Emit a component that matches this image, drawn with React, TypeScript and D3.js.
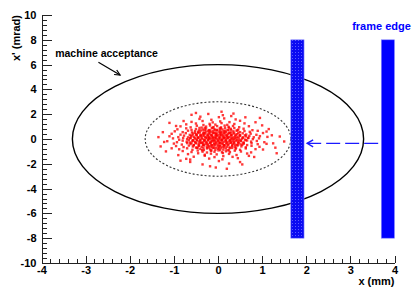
import React, { useEffect, useRef } from "react";
import * as d3 from "d3";

const xTicks = [-4, -3, -2, -1, 0, 1, 2, 3, 4];
const yTicks = [-10, -8, -6, -4, -2, 0, 2, 4, 6, 8, 10];
const xTitle = "x (mm)";
const yTitle = "x' (mrad)";

// semi axes of the ellipses (mm, mrad)
const acceptance = [3.3, 6];
const beamEnvelope = [1.65, 3];

// frames: x0, x1, y0, y1
const movedFrame = [1.65, 1.95, -8, 8];
const frameEdge = [3.7, 4.0, -8, 8];
// dashed arrow: from x, to x, at y
const frameShift = [3.63, 2.02, -0.35];
// label arrow: x0, y0, x1, y1
const acceptanceArrow = [-2.71, 6.19, -2.22, 5.16];
const acceptanceText = "machine acceptance";
const acceptanceTextPos = [-3.69, 6.63];
const frameText = "frame edge";
const frameTextPos = [3.04, 8.8];

// beam particles (mm, mrad)
const particles = [
  [-1.22,-0.24],[-1.02,0.05],[-0.88,-0.06],[-0.79,0.08],[-0.7,-0.02],[-0.63,0.06],[-0.57,-0.09],[-0.51,0.03],[-0.46,0.09],[-0.4,-0.05],[-0.35,0.02],[-0.3,-0.08],[-0.25,0.07],[-0.2,-0.01],[-0.16,0.05],[-0.11,-0.06],[-0.07,0.09],[-0.02,-0.03],[0.02,0.04],[0.06,-0.09],[0.1,0.01],[0.14,0.07],[0.19,-0.04],[0.23,0.08],[0.28,-0.07],[0.32,0.02],[0.37,-0.02],[0.42,0.06],[0.48,-0.08],[0.54,0.03],[0.61,-0.05],[0.69,0.09],[0.79,-0.01],[0.93,0.05],[1.22,0.3],
  [-1.1,0.22],[-0.9,0.15],[-0.77,0.27],[-0.68,0.13],[-0.61,0.24],[-0.55,0.18],[-0.49,0.29],[-0.44,0.12],[-0.39,0.21],[-0.34,0.26],[-0.29,0.14],[-0.24,0.23],[-0.2,0.17],[-0.15,0.28],[-0.11,0.11],[-0.06,0.2],[-0.02,0.25],[0.03,0.15],[0.07,0.29],[0.11,0.19],[0.16,0.12],[0.2,0.24],[0.25,0.16],[0.29,0.28],[0.34,0.13],[0.39,0.22],[0.44,0.18],[0.5,0.27],[0.56,0.11],[0.63,0.21],[0.71,0.25],[0.81,0.14],[0.95,0.23],[1.12,0.17],
  [-1.15,-0.18],[-0.93,-0.26],[-0.8,-0.13],[-0.71,-0.22],[-0.64,-0.29],[-0.58,-0.15],[-0.52,-0.24],[-0.47,-0.12],[-0.42,-0.2],[-0.37,-0.28],[-0.32,-0.16],[-0.27,-0.23],[-0.22,-0.11],[-0.18,-0.27],[-0.13,-0.19],[-0.09,-0.14],[-0.04,-0.25],[0.0,-0.17],[0.05,-0.29],[0.09,-0.12],[0.13,-0.22],[0.18,-0.16],[0.22,-0.27],[0.27,-0.13],[0.31,-0.2],[0.36,-0.25],[0.41,-0.14],[0.46,-0.23],[0.52,-0.18],[0.58,-0.28],[0.66,-0.12],[0.75,-0.21],[0.88,-0.16],[1.05,-0.26],
  [-1.05,0.42],[-0.85,0.35],[-0.73,0.47],[-0.64,0.33],[-0.57,0.44],[-0.5,0.38],[-0.45,0.49],[-0.39,0.32],[-0.34,0.41],[-0.29,0.46],[-0.24,0.36],[-0.19,0.43],[-0.15,0.31],[-0.1,0.48],[-0.05,0.39],[-0.01,0.34],[0.04,0.45],[0.08,0.37],[0.13,0.5],[0.17,0.33],[0.22,0.42],[0.27,0.47],[0.32,0.35],[0.37,0.44],[0.43,0.39],[0.49,0.31],[0.56,0.46],[0.64,0.36],[0.74,0.43],[0.87,0.34],[1.02,0.48],
  [-1.0,-0.37],[-0.82,-0.45],[-0.7,-0.33],[-0.62,-0.41],[-0.55,-0.49],[-0.49,-0.35],[-0.43,-0.43],[-0.38,-0.32],[-0.33,-0.47],[-0.28,-0.38],[-0.23,-0.44],[-0.18,-0.34],[-0.14,-0.5],[-0.09,-0.4],[-0.04,-0.36],[0.0,-0.46],[0.05,-0.33],[0.1,-0.42],[0.14,-0.48],[0.19,-0.37],[0.24,-0.44],[0.29,-0.31],[0.34,-0.4],[0.39,-0.47],[0.45,-0.35],[0.51,-0.43],[0.58,-0.38],[0.66,-0.49],[0.76,-0.34],[0.9,-0.42],[1.1,-0.39],
  [-0.98,0.62],[-0.8,0.55],[-0.68,0.67],[-0.59,0.53],[-0.52,0.64],[-0.45,0.58],[-0.39,0.69],[-0.33,0.52],[-0.27,0.61],[-0.22,0.66],[-0.17,0.56],[-0.12,0.63],[-0.07,0.51],[-0.02,0.68],[0.03,0.59],[0.08,0.54],[0.13,0.65],[0.18,0.57],[0.24,0.7],[0.29,0.53],[0.35,0.62],[0.42,0.67],[0.5,0.55],[0.6,0.64],[0.72,0.58],[0.9,0.66],
  [-0.95,-0.57],[-0.78,-0.65],[-0.66,-0.53],[-0.57,-0.61],[-0.5,-0.69],[-0.43,-0.55],[-0.37,-0.63],[-0.31,-0.52],[-0.25,-0.67],[-0.2,-0.58],[-0.15,-0.64],[-0.1,-0.54],[-0.05,-0.7],[0.0,-0.6],[0.05,-0.56],[0.1,-0.66],[0.15,-0.53],[0.2,-0.62],[0.26,-0.68],[0.32,-0.57],[0.38,-0.64],[0.45,-0.51],[0.53,-0.6],[0.63,-0.67],[0.76,-0.55],[0.94,-0.63],
  [-0.92,0.78],[-0.72,0.86],[-0.6,0.73],[-0.5,0.81],[-0.42,0.89],[-0.34,0.75],[-0.27,0.84],[-0.2,0.72],[-0.14,0.87],[-0.08,0.79],[-0.02,0.74],[0.04,0.85],[0.1,0.77],[0.16,0.9],[0.22,0.73],[0.29,0.82],[0.37,0.88],[0.46,0.76],[0.58,0.83],[0.78,0.71],
  [-0.88,-0.83],[-0.7,-0.75],[-0.58,-0.87],[-0.48,-0.72],[-0.4,-0.8],[-0.32,-0.89],[-0.25,-0.76],[-0.18,-0.84],[-0.12,-0.73],[-0.06,-0.88],[0.0,-0.79],[0.06,-0.74],[0.12,-0.86],[0.18,-0.77],[0.25,-0.9],[0.32,-0.72],[0.4,-0.81],[0.5,-0.87],[0.63,-0.76],[0.85,-0.82],
  [-0.85,1.02],[-0.62,0.94],[-0.48,1.07],[-0.37,0.92],[-0.27,1.0],[-0.18,1.09],[-0.1,0.96],[-0.02,1.04],[0.07,0.93],[0.15,1.08],[0.24,0.98],[0.34,1.05],[0.48,0.95],[0.7,1.03],
  [-0.8,-0.97],[-0.6,-1.05],[-0.46,-0.93],[-0.35,-1.02],[-0.25,-1.09],[-0.16,-0.95],[-0.08,-1.03],[0.01,-0.92],[0.09,-1.07],[0.18,-0.99],[0.27,-1.06],[0.38,-0.94],[0.52,-1.01],[0.75,-1.08],
  [-0.72,1.18],[-0.5,1.25],[-0.33,1.13],[-0.19,1.22],[-0.06,1.16],[0.08,1.28],[0.21,1.14],[0.37,1.21],[0.6,1.26],
  [-0.68,-1.22],[-0.45,-1.15],[-0.3,-1.27],[-0.16,-1.18],[-0.03,-1.24],[0.11,-1.13],[0.25,-1.2],[0.42,-1.29],[0.66,-1.17],
  [-0.6,1.38],[-0.35,1.45],[-0.12,1.34],[0.05,1.42],[0.26,1.36],[0.5,1.47],
  [-0.55,-1.43],[-0.3,-1.35],[-0.08,-1.46],[0.12,-1.38],[0.33,-1.44],[0.7,-1.36],
  [-0.42,1.62],[-0.15,1.55],[0.14,1.66],[0.4,1.58],
  [-0.63,-1.66],[-0.2,-1.58],[0.1,-1.64],[0.45,-1.55],
  [-0.4,1.8],[0.02,1.76],[0.3,1.85],
  [-0.63,-1.85],[0.02,-1.78],[0.5,-1.86],
  [-0.22,2.02],[0.11,1.92],[-0.35,-2.05],[0.25,-1.98],
  [0.08,2.2],[-0.18,-2.2],
  [-1.1,1.3],[1.33,-1.15],[-1.3,-0.6],[1.0,1.1],[-0.9,-1.3],[1.15,0.8],
  // dense core, between the rows above
  [-0.62,0.1],[-0.53,0.08],[-0.45,0.12],[-0.37,0.09],[-0.28,0.11],[-0.2,0.08],[-0.12,0.12],[-0.04,0.1],[0.05,0.09],[0.13,0.12],[0.21,0.1],[0.3,0.08],[0.38,0.11],[0.47,0.1],[0.57,0.12],[0.68,0.09],
  [-0.66,-0.1],[-0.56,-0.12],[-0.48,-0.09],[-0.4,-0.11],[-0.31,-0.1],[-0.23,-0.08],[-0.15,-0.12],[-0.07,-0.1],[0.01,-0.11],[0.09,-0.09],[0.17,-0.1],[0.26,-0.12],[0.35,-0.1],[0.43,-0.08],[0.52,-0.11],[0.63,-0.1],
  [-0.58,0.3],[-0.48,0.32],[-0.4,0.29],[-0.31,0.31],[-0.22,0.3],[-0.13,0.28],[-0.05,0.32],[0.04,0.3],[0.12,0.31],[0.21,0.29],[0.3,0.3],[0.4,0.32],[0.5,0.29],[0.61,0.3],
  [-0.6,-0.3],[-0.51,-0.31],[-0.42,-0.29],[-0.34,-0.32],[-0.25,-0.3],[-0.16,-0.29],[-0.08,-0.31],[0.02,-0.3],[0.1,-0.32],[0.19,-0.29],[0.28,-0.3],[0.37,-0.31],[0.47,-0.29],[0.58,-0.32],
  [-0.52,0.5],[-0.41,0.52],[-0.31,0.49],[-0.21,0.51],[-0.12,0.5],[-0.03,0.48],[0.06,0.52],[0.15,0.5],[0.25,0.49],[0.35,0.51],[0.46,0.5],
  [-0.55,-0.5],[-0.44,-0.52],[-0.34,-0.49],[-0.24,-0.51],[-0.15,-0.5],[-0.06,-0.48],[0.04,-0.52],[0.13,-0.5],[0.22,-0.49],[0.32,-0.51],[0.43,-0.5],[0.55,-0.48],
  [-0.43,0.7],[-0.3,0.72],[-0.18,0.69],[-0.07,0.71],[0.05,0.7],[0.17,0.68],[0.3,0.72],[0.44,0.7],
  [-0.46,-0.7],[-0.33,-0.72],[-0.21,-0.69],[-0.09,-0.71],[0.02,-0.7],[0.14,-0.68],[0.27,-0.72],[0.41,-0.7],
  [-0.3,0.9],[-0.12,0.92],[0.06,0.89],[0.25,0.91],[-0.36,-0.9],[-0.15,-0.92],[0.05,-0.89],[0.22,-0.91],
  // sparse halo
  [-1.25,0.55],[-1.05,-0.75],[-0.95,1.05],[-0.78,1.45],[-0.72,-1.6],[-0.5,2.1],[0.35,2.05],[0.62,1.75],
  [0.85,1.35],[1.1,0.6],[1.25,-0.35],[1.4,0.2],[1.02,-0.85],[0.82,-1.45],[0.55,-2.05],[-0.05,-2.3],
  [-0.85,-1.75],[-1.18,-1.0],[-1.35,0.15],[1.3,-0.7],[0.95,1.7],[-0.6,1.95],[0.2,-2.4],[1.5,-0.2]
];

const W = 415;
const H = 294;
const margin = { top: 15, right: 20.5, bottom: 31, left: 41.5 };
const font = "'Liberation Sans', Arial, Helvetica, sans-serif";

const range = (a: number, b: number, step: number) =>
  d3.range(Math.round((b - a) / step) + 1).map((i) => +(a + i * step).toFixed(3));

const App = () => {
  const svgRef = useRef<SVGSVGElement>(null);

  useEffect(() => {
    const root = d3.select(svgRef.current);
    root.selectAll("*").remove();

    const x = d3.scaleLinear().domain([-4, 4]).range([margin.left, W - margin.right]);
    const y = d3.scaleLinear().domain([-10, 10]).range([H - margin.bottom, margin.top]);

    const defs = root.append("defs");
    const pat = defs
      .append("pattern")
      .attr("id", "hatch")
      .attr("patternUnits", "userSpaceOnUse")
      .attr("width", 3)
      .attr("height", 3);
    pat.append("rect").attr("width", 3).attr("height", 3).attr("fill", "#0a0af2");
    pat.append("rect").attr("x", 1).attr("y", 1).attr("width", 1).attr("height", 1).attr("fill", "#5a5aff");

    // particles
    root
      .append("g")
      .selectAll("rect")
      .data(particles)
      .enter()
      .append("rect")
      .attr("x", (d) => x(d[0]) - 1.2)
      .attr("y", (d) => y(d[1]) - 1.2)
      .attr("width", 2.4)
      .attr("height", 2.4)
      .attr("fill", "#ff0000")
      .attr("opacity", 0.78);

    // ellipses
    root
      .append("ellipse")
      .attr("cx", x(0))
      .attr("cy", y(0))
      .attr("rx", x(acceptance[0]) - x(0))
      .attr("ry", y(0) - y(acceptance[1]))
      .attr("fill", "none")
      .attr("stroke", "#000")
      .attr("stroke-width", 1.4);
    root
      .append("ellipse")
      .attr("cx", x(0))
      .attr("cy", y(0))
      .attr("rx", x(beamEnvelope[0]) - x(0))
      .attr("ry", y(0) - y(beamEnvelope[1]))
      .attr("fill", "none")
      .attr("stroke", "#333")
      .attr("stroke-width", 1.1)
      .attr("stroke-dasharray", "2,2");

    // frames
    const bar = (f: number[], fill: string) =>
      root
        .append("rect")
        .attr("x", x(f[0]))
        .attr("y", y(f[3]))
        .attr("width", x(f[1]) - x(f[0]))
        .attr("height", y(f[2]) - y(f[3]))
        .attr("fill", fill)
        .attr("stroke", "#8f8fff")
        .attr("stroke-width", 0.6);
    bar(movedFrame, "url(#hatch)");
    bar(frameEdge, "#0000ff");

    // dashed arrow
    const ay = y(frameShift[2]);
    root
      .append("line")
      .attr("x1", x(frameShift[0]))
      .attr("x2", x(frameShift[1]))
      .attr("y1", ay)
      .attr("y2", ay)
      .attr("stroke", "#1a1aff")
      .attr("stroke-width", 1.4)
      .attr("stroke-dasharray", "14,5");
    const tip = x(frameShift[1]);
    root
      .append("path")
      .attr("d", `M${tip + 6},${ay - 3.5}L${tip},${ay}L${tip + 6},${ay + 3.5}`)
      .attr("fill", "none")
      .attr("stroke", "#1a1aff")
      .attr("stroke-width", 1.4);

    // label arrow
    const [lx0, ly0, lx1, ly1] = acceptanceArrow;
    const p0 = [x(lx0), y(ly0)];
    const p1 = [x(lx1), y(ly1)];
    root
      .append("line")
      .attr("x1", p0[0])
      .attr("y1", p0[1])
      .attr("x2", p1[0])
      .attr("y2", p1[1])
      .attr("stroke", "#000")
      .attr("stroke-width", 1.2);
    const ang = Math.atan2(p1[1] - p0[1], p1[0] - p0[0]);
    const hl = 6;
    const h1 = [p1[0] - hl * Math.cos(ang - 0.45), p1[1] - hl * Math.sin(ang - 0.45)];
    const h2 = [p1[0] - hl * Math.cos(ang + 0.45), p1[1] - hl * Math.sin(ang + 0.45)];
    root
      .append("path")
      .attr("d", `M${h1[0]},${h1[1]}L${p1[0]},${p1[1]}L${h2[0]},${h2[1]}`)
      .attr("fill", "none")
      .attr("stroke", "#000")
      .attr("stroke-width", 1.2);

    root
      .append("text")
      .attr("x", x(acceptanceTextPos[0]))
      .attr("y", y(acceptanceTextPos[1]))
      .attr("font-family", font)
      .attr("font-weight", "bold")
      .attr("font-size", 10.5)
      .attr("fill", "#000")
      .text(acceptanceText);
    root
      .append("text")
      .attr("x", x(frameTextPos[0]))
      .attr("y", y(frameTextPos[1]))
      .attr("font-family", font)
      .attr("font-weight", "bold")
      .attr("font-size", 11)
      .attr("fill", "#0000ff")
      .text(frameText);

    // axes (ticks pointing inward, ROOT style)
    const xAxis = root.append("g").attr("transform", `translate(0,${H - margin.bottom})`);
    xAxis
      .append("g")
      .call(d3.axisBottom(x).tickValues(range(-4, 4, 0.2)).tickSize(-3.7).tickSizeOuter(0).tickFormat(() => ""));
    xAxis
      .append("g")
      .call(
        d3
          .axisBottom(x)
          .tickValues(xTicks)
          .tickSize(-7.4)
          .tickSizeOuter(0)
          .tickPadding(3)
          .tickFormat((d) => String(d))
      );
    const yAxis = root.append("g").attr("transform", `translate(${margin.left},0)`);
    yAxis
      .append("g")
      .call(d3.axisLeft(y).tickValues(range(-10, 10, 0.4)).tickSize(-5.3).tickSizeOuter(0).tickFormat(() => ""));
    yAxis
      .append("g")
      .call(
        d3
          .axisLeft(y)
          .tickValues(yTicks)
          .tickSize(-10.6)
          .tickSizeOuter(0)
          .tickPadding(5)
          .tickFormat((d) => String(d))
      );
    root
      .selectAll(".domain, .tick line")
      .attr("stroke", "#222")
      .attr("stroke-width", 1)
      .attr("shape-rendering", "crispEdges");
    root
      .selectAll(".tick text")
      .attr("font-family", font)
      .attr("font-weight", "bold")
      .attr("font-size", 11)
      .attr("fill", "#000");

    root
      .append("text")
      .attr("x", W - margin.right)
      .attr("y", 285)
      .attr("text-anchor", "end")
      .attr("font-family", font)
      .attr("font-weight", "bold")
      .attr("font-size", 11)
      .text(xTitle);
    root
      .append("text")
      .attr("transform", `translate(20,${margin.top}) rotate(-90)`)
      .attr("text-anchor", "end")
      .attr("font-family", font)
      .attr("font-weight", "bold")
      .attr("font-size", 11)
      .text(yTitle);
  }, []);

  return (
    <svg
      ref={svgRef}
      width={W}
      height={H}
      style={{ position: "absolute", left: 0, top: 0, background: "#fff" }}
    ></svg>
  );
};

export default App;
